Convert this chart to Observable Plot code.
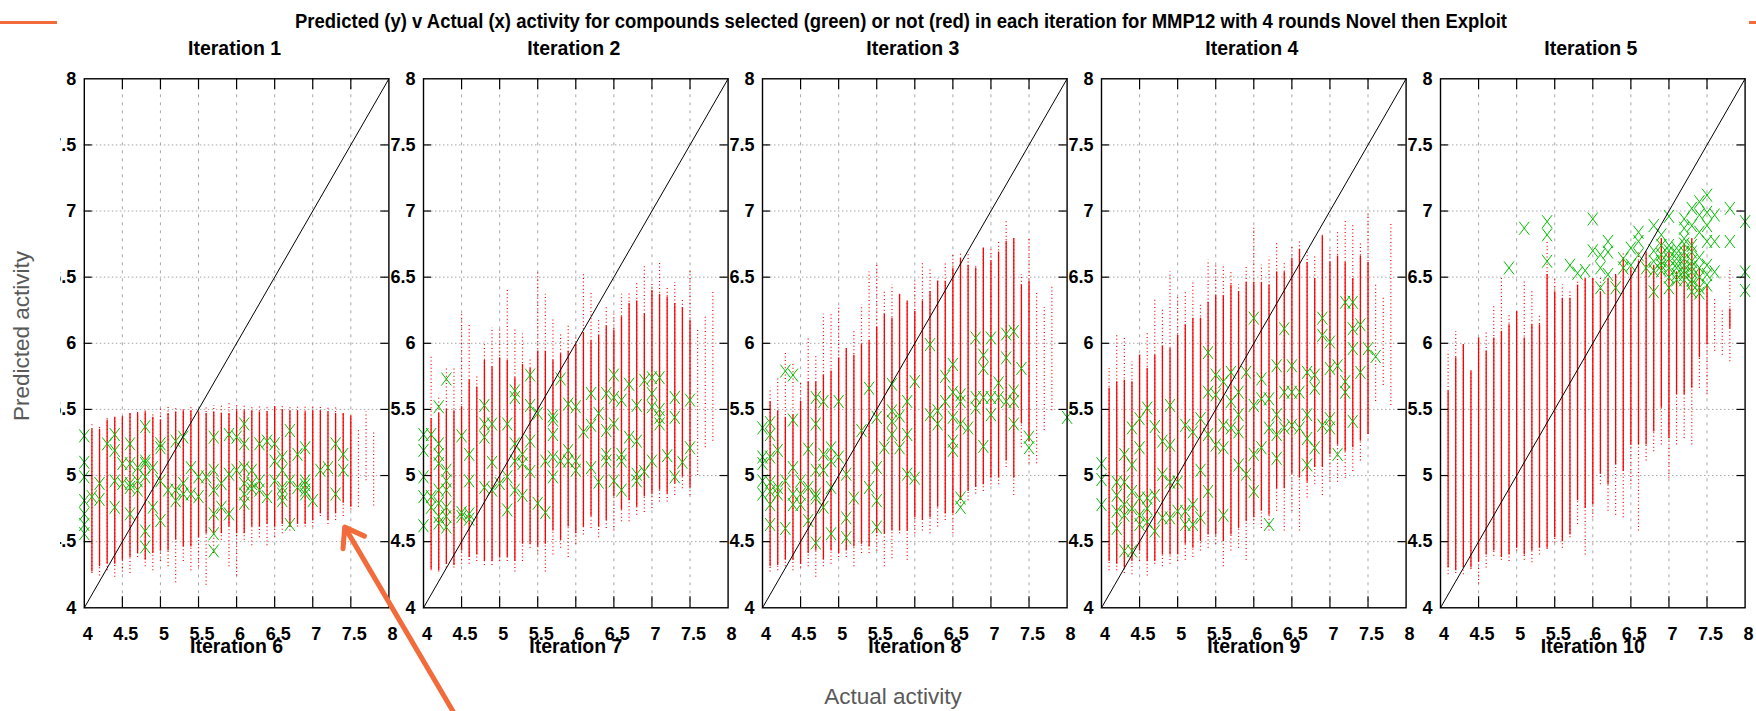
<!DOCTYPE html>
<html><head><meta charset="utf-8">
<script src="https://cdn.jsdelivr.net/npm/d3@7"></script>
<script src="https://cdn.jsdelivr.net/npm/@observablehq/plot@0.6"></script>
<style>
html,body{margin:0;padding:0;background:#fff;}
#page{position:relative;width:1756px;height:711px;overflow:hidden;background:#fff;}
.slide-text{position:absolute;font-family:"Liberation Sans",Arial,sans-serif;color:#595959;font-size:22.5px;white-space:nowrap;line-height:1;}
.gp-title{position:absolute;font-family:"Liberation Sans",Arial,sans-serif;font-weight:bold;font-size:20px;line-height:20px;white-space:nowrap;color:#000;transform-origin:0 0;}
.orange{position:absolute;background:#F26B3A;}
</style></head><body><div id="page"></div>
<script>
// ---------- text ----------
const mainTitle = "Predicted (y) v Actual (x) activity for compounds selected (green) or not (red) in each iteration for MMP12 with 4 rounds Novel then Exploit";
const panelTitles = ["Iteration 1", "Iteration 2", "Iteration 3", "Iteration 4", "Iteration 5"];
const nextRowTitles = ["Iteration 6", "Iteration 7", "Iteration 8", "Iteration 9", "Iteration 10"];
const yAxisLabel = "Predicted activity";
const xAxisLabel = "Actual activity";

// ---------- ticks ----------
const axisTicks = [4, 4.5, 5, 5.5, 6, 6.5, 7, 7.5, 8];
const gridTicks = [4.5, 5, 5.5, 6, 6.5, 7, 7.5];
const diagonal = [4, 8];

// actual-activity columns of the unselected (red) compounds
const columnX = [4.1, 4.2, 4.3, 4.4, 4.5, 4.6, 4.7, 4.8, 4.9, 5.0,
  5.1, 5.2, 5.3, 5.4, 5.5, 5.6, 5.7, 5.8, 5.9, 6.0,
  6.1, 6.2, 6.3, 6.4, 6.5, 6.6, 6.7, 6.8, 6.9, 7.0,
  7.1, 7.2, 7.3, 7.4, 7.5, 7.6, 7.7, 7.8];

// ---------- Iteration 1 ----------
const it1DenseLo = [4.27,4.31,4.33,4.33,4.36,4.38,4.41,4.36,4.41,4.43, 4.43,4.51,4.46,4.46,4.53,4.56,4.56,4.56,4.61,4.56, 4.56,4.61,4.61,4.63,4.61,4.63,4.61,4.63,4.63,4.66, 4.71,4.66,4.71,4.79,4.76,null,null,null];
const it1DenseHi = [5.35,5.35,5.42,5.44,5.44,5.47,5.47,5.48,5.44,5.42, 5.47,5.48,5.49,5.49,5.48,5.47,5.48,5.47,5.47,5.49, 5.49,5.49,5.48,5.48,5.52,5.50,5.49,5.49,5.48,5.49, 5.49,5.48,5.47,5.47,5.45,null,null,null];
const it1SparseLo = [4.26,4.24,4.28,4.23,4.27,4.26,4.38,4.31,4.28,4.35, 4.31,4.19,4.35,4.28,4.31,4.17,4.41,4.51,4.31,4.24, 4.51,4.47,4.53,4.47,4.53,4.56,4.58,4.61,4.61,4.61, 4.69,4.63,4.66,4.69,4.74,4.76,4.96,4.77];
const it1SparseHi = [5.39,5.37,5.43,5.45,5.47,5.48,5.48,5.49,5.48,5.52, 5.52,5.52,5.50,5.52,5.49,5.53,5.53,5.53,5.55,5.53, 5.53,5.53,5.53,5.53,5.54,5.53,5.53,5.53,5.53,5.53, 5.53,5.52,5.52,5.47,5.45,5.35,5.48,5.33];
const it1Selected = [[4.0,5.30],[4.0,5.10],[4.0,4.99],[4.0,4.81],[4.0,4.71],[4.0,4.63],[4.0,4.56],
  [4.1,4.84],[4.2,4.94],[4.2,4.82],[4.3,5.24],[4.4,5.31],[4.4,5.19],[4.4,4.96],[4.4,4.76],
  [4.5,5.09],[4.5,4.94],[4.6,5.24],[4.6,5.09],[4.6,4.94],[4.6,4.91],[4.6,4.71],
  [4.7,5.06],[4.7,4.96],[4.7,4.89],[4.8,5.37],[4.8,5.11],[4.8,5.09],[4.8,4.99],[4.8,4.58],[4.8,4.46],
  [4.9,5.06],[4.9,4.76],[5.0,5.24],[5.0,5.21],[5.0,4.96],[5.0,4.66],[5.1,4.89],
  [5.2,5.26],[5.2,4.89],[5.2,4.81],[5.3,5.29],[5.3,4.94],[5.3,4.86],[5.4,5.06],[5.4,4.86],
  [5.5,4.99],[5.5,4.84],[5.6,4.99],[5.7,5.29],[5.7,5.04],[5.7,4.89],[5.7,4.71],[5.7,4.56],[5.7,4.43],
  [5.8,4.94],[5.8,4.76],[5.9,5.31],[5.9,5.01],[5.9,4.71],[6.0,5.29],[6.0,5.04],
  [6.1,5.39],[6.1,5.24],[6.1,5.06],[6.1,4.94],[6.1,4.86],[6.1,4.79],[6.2,5.04],[6.2,4.94],[6.2,4.90],
  [6.3,5.24],[6.3,4.96],[6.3,4.89],[6.4,5.26],[6.4,4.84],[6.5,5.24],[6.5,5.11],[6.5,4.96],
  [6.6,5.14],[6.6,5.04],[6.6,4.91],[6.6,4.86],[6.6,4.81],[6.7,5.34],[6.7,4.96],[6.7,4.63],
  [6.8,5.16],[6.8,4.91],[6.9,5.21],[6.9,4.96],[6.9,4.93],[6.9,4.89],[6.9,4.86],
  [7.0,4.81],[7.1,5.04],[7.2,5.06],[7.3,5.24],[7.3,4.86],[7.4,5.16],[7.4,5.04]];

// ---------- Iteration 2 ----------
const it2DenseLo = [4.29,4.28,4.33,4.32,4.43,4.38,4.40,4.35,4.35,4.38, 4.38,4.35,4.48,4.48,4.46,4.48,4.58,4.51,4.61,4.56, 4.61,4.69,4.61,4.66,4.84,4.74,4.81,4.76,4.84,4.86, 4.89,4.86,4.94,4.99,4.91,null,null,null];
const it2DenseHi = [5.43,5.47,5.50,5.49,5.52,5.72,5.67,5.87,5.82,5.89, 5.87,5.74,5.84,5.81,5.94,5.94,5.87,5.92,5.94,5.99, 6.08,6.02,6.06,6.13,6.10,6.20,6.30,6.32,6.22,6.40, 6.37,6.35,6.30,6.27,6.17,null,null,null];
const it2SparseLo = [4.28,4.27,4.30,4.30,4.33,4.33,4.35,4.32,4.32,4.35, 4.35,4.27,4.35,4.45,4.40,4.27,4.40,4.45,4.38,4.48, 4.55,4.60,4.53,4.60,4.58,4.65,4.65,4.70,4.72,4.75, 4.80,4.80,4.85,4.90,4.85,5.00,5.21,5.26];
const it2SparseHi = [5.91,5.59,5.81,5.82,6.23,6.15,5.76,6.01,6.12,6.11, 6.40,6.12,6.07,5.89,6.55,6.37,6.18,6.07,6.13,6.05, 6.52,6.39,6.17,6.27,6.22,6.37,6.39,6.45,6.59,6.46, 6.62,6.42,6.46,6.34,6.55,6.11,6.20,6.40];
const it2Selected = [[4.0,5.31],[4.0,5.19],[4.0,4.99],[4.0,4.84],[4.0,4.62],
  [4.1,5.31],[4.1,4.84],[4.1,4.76],[4.2,5.52],[4.2,5.24],[4.2,5.16],[4.2,5.09],[4.2,4.89],[4.2,4.79],[4.2,4.69],[4.2,4.64],
  [4.3,5.73],[4.3,5.04],[4.3,4.96],[4.3,4.89],[4.3,4.76],[4.3,4.69],[4.3,4.61],
  [4.5,5.30],[4.5,4.72],[4.5,4.69],[4.6,5.16],[4.6,4.96],[4.6,4.71],[4.6,4.67],
  [4.8,5.53],[4.8,5.39],[4.8,5.29],[4.8,4.91],[4.9,5.39],[4.9,5.10],[4.9,4.89],[5.0,4.94],
  [5.1,5.39],[5.1,4.99],[5.1,4.74],[5.2,5.64],[5.2,5.59],[5.2,5.24],[5.2,5.11],[5.2,4.89],
  [5.3,5.16],[5.3,5.09],[5.3,4.85],[5.4,5.76],[5.4,5.53],[5.4,5.26],[5.4,5.03],
  [5.5,5.47],[5.5,4.79],[5.6,5.11],[5.6,4.72],[5.7,5.45],[5.7,5.42],[5.7,5.31],[5.7,5.14],[5.7,4.99],
  [5.8,5.73],[5.8,5.11],[5.9,5.54],[5.9,5.19],[5.9,5.11],[6.0,5.52],[6.0,5.11],[6.0,5.04],
  [6.1,5.33],[6.2,5.62],[6.2,5.38],[6.2,5.06],[6.3,5.47],[6.3,4.95],
  [6.4,5.62],[6.4,5.34],[6.4,5.16],[6.4,5.11],[6.5,5.76],[6.5,5.59],[6.5,5.39],[6.5,4.96],
  [6.6,5.57],[6.6,5.16],[6.6,5.11],[6.6,4.89],[6.7,5.69],[6.7,5.29],
  [6.8,5.53],[6.8,5.26],[6.8,5.01],[6.8,4.96],[6.9,5.72],[6.9,5.03],
  [7.0,5.74],[7.0,5.62],[7.0,5.52],[7.0,5.11],[7.1,5.74],[7.1,5.50],[7.1,5.44],[7.1,5.39],
  [7.2,5.15],[7.3,5.59],[7.3,5.44],[7.3,4.99],[7.4,5.10],[7.5,5.57],[7.5,5.21]];

// ---------- Iteration 3 ----------
const it3DenseLo = [4.31,4.32,4.36,4.36,4.33,4.41,4.43,4.36,4.43,4.41, 4.43,4.46,4.48,4.46,4.56,4.56,4.58,4.58,4.58,4.68, 4.66,4.68,4.76,4.71,4.71,4.81,4.88,4.91,4.93,4.98, 4.98,5.11,4.98,5.39,5.26,null,null,null];
const it3DenseHi = [5.56,5.49,5.44,5.46,5.56,5.71,5.71,5.76,5.79,5.89, 5.96,5.91,5.99,6.02,6.12,6.22,6.19,6.37,6.32,6.24, 6.32,6.39,6.47,6.47,6.57,6.64,6.59,6.57,6.72,6.62, 6.69,6.77,6.79,6.44,6.47,null,null,null];
const it3SparseLo = [4.27,4.28,4.31,4.28,4.30,4.31,4.23,4.31,4.33,4.38, 4.38,4.31,4.41,4.41,4.43,4.31,4.37,4.56,4.36,4.56, 4.58,4.56,4.61,4.66,4.56,4.76,4.81,4.86,4.88,4.93, 4.93,5.06,4.85,5.21,5.09,5.09,5.34,5.49];
const it3SparseHi = [5.66,5.74,5.94,5.86,5.71,6.04,5.91,6.22,6.23,6.27, 5.96,6.09,6.29,6.54,6.59,6.39,6.44,6.37,6.32,6.47, 6.62,6.57,6.49,6.61,6.67,6.69,6.67,6.58,6.73,6.72, 6.77,6.92,6.79,6.52,6.79,6.39,6.27,6.44];
const it3Selected = [[4.0,5.36],[4.0,5.14],[4.0,5.09],[4.0,4.96],[4.0,4.86],
  [4.1,5.40],[4.1,5.31],[4.1,5.14],[4.1,4.95],[4.1,4.88],[4.1,4.78],[4.1,4.63],
  [4.2,5.19],[4.2,4.91],[4.2,4.86],[4.3,5.79],[4.3,4.96],[4.3,4.60],
  [4.4,5.76],[4.4,5.42],[4.4,5.06],[4.4,4.86],[4.4,4.78],[4.5,4.96],[4.5,4.86],[4.5,4.78],
  [4.6,5.20],[4.6,4.91],[4.6,4.66],[4.7,5.59],[4.7,5.39],[4.7,5.04],[4.7,4.86],[4.7,4.83],[4.7,4.49],
  [4.8,5.56],[4.8,5.16],[4.8,5.04],[4.8,4.76],[4.9,5.21],[4.9,5.11],[4.9,4.91],[4.9,4.56],
  [5.0,5.56],[5.0,5.14],[5.1,5.01],[5.1,4.68],[5.1,4.53],[5.2,4.83],[5.3,5.34],[5.4,5.66],[5.4,4.91],
  [5.5,5.44],[5.5,5.06],[5.5,4.81],[5.5,4.61],[5.6,5.21],[5.7,5.69],[5.7,5.49],[5.7,5.41],[5.7,5.31],
  [5.8,5.45],[5.8,5.21],[5.9,5.56],[5.9,5.31],[5.9,5.01],[6.0,5.71],[6.0,4.98],
  [6.2,5.99],[6.2,5.46],[6.3,5.49],[6.3,5.39],[6.4,5.75],[6.4,5.56],
  [6.5,5.84],[6.5,5.63],[6.5,5.44],[6.5,5.26],[6.5,5.19],[6.6,5.61],[6.6,5.56],[6.6,5.39],[6.6,4.83],[6.6,4.76],
  [6.7,5.36],[6.8,6.04],[6.8,5.59],[6.8,5.51],[6.9,5.91],[6.9,5.81],[6.9,5.59],[6.9,5.22],
  [7.0,6.04],[7.0,5.59],[7.0,5.46],[7.1,5.70],[7.1,5.59],[7.2,6.07],[7.2,5.89],[7.2,5.56],
  [7.3,6.09],[7.3,5.64],[7.3,5.56],[7.3,5.39],[7.4,5.81],[7.5,5.29],[7.5,5.21],[8.0,5.44]];

// ---------- Iteration 4 ----------
const it4DenseLo = [4.35,4.33,4.30,4.35,4.43,4.35,4.35,4.40,4.40,4.40, 4.48,4.45,4.50,4.55,4.55,4.50,4.55,4.60,4.65,4.68, 4.73,4.70,4.90,4.90,5.01,4.98,4.95,5.06,5.06,5.16, 5.23,5.18,5.21,5.26,5.31,null,null,null];
const it4DenseHi = [5.66,5.71,5.72,5.71,5.91,5.81,5.91,5.98,5.96,6.06, 6.14,6.19,6.19,6.31,6.36,6.36,6.44,6.39,6.46,6.46, 6.46,6.44,6.54,6.54,6.64,6.71,6.61,6.49,6.81,6.61, 6.66,6.61,6.49,6.66,6.61,null,null,null];
const it4SparseLo = [4.28,4.28,4.26,4.25,4.35,4.24,4.33,4.31,4.33,4.35, 4.36,4.38,4.43,4.45,4.48,4.31,4.43,4.45,4.36,4.63, 4.60,4.58,4.73,4.58,4.73,4.58,4.83,4.93,4.85,4.95, 4.95,4.98,5.03,5.11,5.31,5.56,5.68,5.53];
const it4SparseHi = [5.81,6.06,6.04,5.86,5.91,6.09,6.34,6.26,6.54,6.36, 6.39,6.46,6.29,6.63,6.60,6.59,6.54,6.44,6.59,6.88, 6.59,6.65,6.76,6.61,6.74,6.78,6.71,6.66,6.83,6.71, 6.85,6.93,6.90,6.76,7.00,6.44,6.34,6.90];
const it4Selected = [[4.0,5.09],[4.0,4.97],[4.0,4.78],[4.2,4.95],[4.2,4.85],[4.2,4.73],[4.2,4.60],
  [4.3,5.16],[4.3,4.95],[4.3,4.78],[4.3,4.70],[4.3,4.43],[4.4,5.36],[4.4,5.08],[4.4,4.88],[4.4,4.75],[4.4,4.43],
  [4.5,5.43],[4.5,5.21],[4.5,4.83],[4.5,4.70],[4.5,4.63],[4.6,5.51],[4.6,4.83],[4.6,4.75],[4.6,4.65],
  [4.7,5.37],[4.7,4.85],[4.7,4.58],[4.8,5.26],[4.8,5.01],[4.8,4.68],[4.9,5.53],[4.9,5.23],[4.9,4.95],[4.9,4.68],
  [5.0,4.95],[5.0,4.73],[5.1,5.38],[5.1,4.73],[5.1,4.63],[5.2,5.33],[5.2,4.78],[5.2,4.63],
  [5.3,5.43],[5.3,5.04],[5.3,4.68],[5.4,5.93],[5.4,5.63],[5.4,5.31],[5.4,4.88],
  [5.5,5.76],[5.5,5.61],[5.5,5.23],[5.6,5.71],[5.6,5.38],[5.6,5.21],[5.6,4.70],
  [5.7,5.78],[5.7,5.56],[5.7,5.36],[5.8,5.63],[5.8,5.46],[5.8,5.33],[5.8,5.08],[5.9,5.78],[5.9,5.01],
  [6.0,6.19],[6.0,5.53],[6.0,5.16],[6.0,4.88],[6.1,5.73],[6.1,5.58],[6.1,5.21],[6.2,5.58],[6.2,5.36],[6.2,4.63],
  [6.3,5.83],[6.3,5.46],[6.3,5.31],[6.3,5.13],[6.4,6.11],[6.4,5.63],[6.4,5.36],[6.5,5.83],[6.5,5.63],[6.5,5.38],
  [6.6,5.63],[6.6,5.36],[6.7,5.78],[6.7,5.46],[6.7,5.28],[6.7,5.08],[6.8,5.76],[6.8,5.66],[6.8,5.21],
  [6.9,6.19],[6.9,6.06],[6.9,5.38],[7.0,6.01],[7.0,5.81],[7.0,5.43],[7.0,5.36],[7.1,5.83],[7.1,5.16],
  [7.2,6.31],[7.2,5.71],[7.2,5.63],[7.3,6.31],[7.3,6.11],[7.3,5.96],[7.3,5.41],[7.4,6.14],[7.4,5.78],
  [7.5,5.96],[7.6,5.90]];

// ---------- Iteration 5 ----------
const it5DenseLo = [4.30,4.28,4.30,4.30,4.35,4.40,4.43,4.38,4.40,4.45, 4.40,4.43,4.45,4.45,4.53,4.50,4.55,4.81,4.75,4.78, 5.01,4.93,5.08,5.03,5.23,5.23,5.23,5.33,5.51,5.28, 5.61,5.61,5.66,5.89,5.99,null,null,6.11];
const it5DenseHi = [5.64,5.89,5.99,5.79,6.04,5.94,6.04,6.09,6.14,6.24, 6.04,6.14,6.14,6.52,6.39,6.34,6.34,6.44,6.49,6.49, 6.39,6.49,6.52,6.64,6.57,6.62,6.69,6.59,6.79,6.69, 6.54,6.74,6.79,6.57,6.44,null,null,6.26];
const it5SparseLo = [4.25,4.26,4.25,4.29,4.18,4.30,4.39,4.36,4.35,4.43, 4.36,4.34,4.40,4.44,4.49,4.45,4.53,4.63,4.40,4.68, 4.93,4.73,4.70,4.68,4.93,4.58,5.11,5.18,5.23,4.98, 5.23,5.28,5.23,5.66,5.61,5.94,5.91,5.86];
const it5SparseHi = [5.94,6.09,5.99,5.79,6.04,6.09,6.29,6.49,6.21,6.24, 6.47,6.39,6.21,6.77,6.49,6.44,6.39,6.47,6.49,6.49, 6.49,6.49,6.52,6.69,6.57,6.69,6.69,6.59,6.79,6.69, 6.54,6.74,6.79,6.57,6.44,6.34,6.26,6.57];
const it5Selected = [[4.9,6.57],[5.1,6.87],[5.4,6.92],[5.4,6.82],[5.4,6.62],[5.7,6.59],[5.8,6.53],[5.9,6.55],
  [6.0,6.94],[6.0,6.70],[6.1,6.67],[6.1,6.57],[6.1,6.42],[6.2,6.77],[6.2,6.69],[6.2,6.52],[6.3,6.42],
  [6.4,6.64],[6.4,6.57],[6.5,6.72],[6.5,6.59],[6.6,6.84],[6.6,6.77],[6.6,6.67],[6.7,6.57],
  [6.8,6.89],[6.8,6.70],[6.8,6.62],[6.8,6.55],[6.8,6.39],[6.9,6.82],[6.9,6.74],[6.9,6.67],[6.9,6.62],[6.9,6.59],[6.9,6.55],
  [7.0,6.96],[7.0,6.74],[7.0,6.70],[7.0,6.64],[7.0,6.57],[7.0,6.50],[7.0,6.42],
  [7.1,6.72],[7.1,6.68],[7.1,6.64],[7.1,6.60],[7.1,6.57],[7.1,6.52],[7.1,6.48],
  [7.2,6.94],[7.2,6.87],[7.2,6.79],[7.2,6.75],[7.2,6.69],[7.2,6.64],[7.2,6.59],[7.2,6.55],[7.2,6.52],[7.2,6.48],
  [7.3,7.02],[7.3,6.89],[7.3,6.74],[7.3,6.69],[7.3,6.62],[7.3,6.58],[7.3,6.54],[7.3,6.48],[7.3,6.45],[7.3,6.39],
  [7.4,7.07],[7.4,6.97],[7.4,6.84],[7.4,6.65],[7.4,6.57],[7.4,6.50],[7.4,6.42],[7.4,6.38],
  [7.5,7.12],[7.5,6.99],[7.5,6.89],[7.5,6.77],[7.5,6.59],[7.5,6.52],[7.5,6.44],
  [7.6,6.97],[7.6,6.77],[7.6,6.54],[7.8,7.02],[7.8,6.77],[8.0,6.92],[8.0,6.54],[8.0,6.40]];

// slide annotation arrow (in Iteration 1 data units): tail -> head
const arrowAnnotation = [{x1: 8.88, y1: 3.18, x2: 7.42, y2: 4.61}];

// ---------- assemble ----------
const iterations = [
  {title: panelTitles[0], next: nextRowTitles[0], lo: it1DenseLo, hi: it1DenseHi, slo: it1SparseLo, shi: it1SparseHi, sel: it1Selected},
  {title: panelTitles[1], next: nextRowTitles[1], lo: it2DenseLo, hi: it2DenseHi, slo: it2SparseLo, shi: it2SparseHi, sel: it2Selected},
  {title: panelTitles[2], next: nextRowTitles[2], lo: it3DenseLo, hi: it3DenseHi, slo: it3SparseLo, shi: it3SparseHi, sel: it3Selected},
  {title: panelTitles[3], next: nextRowTitles[3], lo: it4DenseLo, hi: it4DenseHi, slo: it4SparseLo, shi: it4SparseHi, sel: it4Selected},
  {title: panelTitles[4], next: nextRowTitles[4], lo: it5DenseLo, hi: it5DenseHi, slo: it5SparseLo, shi: it5SparseHi, sel: it5Selected}
];

const page = document.getElementById("page");
const RED = "#ff0000", GREEN = "#00c000", GRID = "#a8a8a8", ORANGE = "#F26B3A";
const PANEL_LEFT0 = 83.3, PANEL_STEP = 339.25, PANEL_W = 304.6;
const TOP = 78.3, BOTTOM = 607.3, PAGE_H = 711, FRAME_H = BOTTOM - TOP;
const gpFont = {fontFamily: "Liberation Sans, Arial, sans-serif", fontWeight: "bold", fill: "black"};

// gnuplot "x" point: a slightly tall cross
const tallCross = {
  draw(context, size) {
    const r = Math.sqrt(size / Math.PI), h = r * 1.3;
    context.moveTo(-r, -h); context.lineTo(r, h);
    context.moveTo(-r, h); context.lineTo(r, -h);
  }
};

iterations.forEach((it, i) => {
  const left = PANEL_LEFT0 + i * PANEL_STEP;
  const mL = i === 0 ? left - 59.5 : 42;
  const mR = i === 0 ? 90 : 14;
  const width = mL + PANEL_W + mR;
  const cols = columnX.map((x, j) => ({x, lo: it.lo[j], hi: it.hi[j], slo: it.slo[j], shi: it.shi[j]}));
  const marks = [
    Plot.ruleX(gridTicks, {stroke: GRID, strokeWidth: 1, strokeDasharray: "3,5"}),
    Plot.ruleY(gridTicks, {stroke: GRID, strokeWidth: 1, strokeDasharray: "1.5,2.5"}),
    Plot.ruleX(cols.filter(d => d.slo != null), {x: "x", y1: "slo", y2: "shi", stroke: RED, strokeWidth: 1.2, strokeDasharray: "1,2.6"}),
    Plot.ruleX(cols.filter(d => d.lo != null), {x: "x", y1: "lo", y2: "hi", stroke: RED, strokeWidth: 1.3}),
    Plot.dot(it.sel, {x: d => d[0], y: d => d[1], r: 5, symbol: tallCross, stroke: GREEN, strokeWidth: 1, fill: "none"}),
    Plot.line(diagonal.map(v => [v, v]), {stroke: "black", strokeWidth: 1}),
    Plot.ruleX(gridTicks, {stroke: "black", strokeWidth: 1.2, insetBottom: FRAME_H - 11}),
    Plot.ruleX(gridTicks, {stroke: "black", strokeWidth: 1.2, insetTop: FRAME_H - 11}),
    Plot.ruleY(gridTicks, {stroke: "black", strokeWidth: 1.2, insetRight: PANEL_W - 8}),
    Plot.ruleY(gridTicks, {stroke: "black", strokeWidth: 1.2, insetLeft: PANEL_W - 8}),
    Plot.frame({stroke: "black", strokeWidth: 1.4}),
    Plot.axisX(axisTicks, {anchor: "bottom", tickSize: 0, tickPadding: 19, dx: 3.5, label: null, tickFormat: d => String(d), fontSize: 18, ...gpFont}),
    Plot.axisY(axisTicks, {anchor: "left", tickSize: 0, tickPadding: 8, label: null, tickFormat: d => String(d), fontSize: 18, ...gpFont}),
    Plot.text([it.title], {frameAnchor: "top", lineAnchor: "middle", dy: -30.5, dx: -2, text: d => d, fontSize: 19.5, ...gpFont}),
    Plot.text([it.next], {frameAnchor: "bottom", lineAnchor: "middle", dy: 38.5, text: d => d, fontSize: 19.5, ...gpFont})
  ];
  if (i === 0) {
    marks.push(Plot.arrow(arrowAnnotation, {x1: "x1", y1: "y1", x2: "x2", y2: "y2", stroke: ORANGE, strokeWidth: 5, headLength: 6.5, headAngle: 70}));
  }
  const svg = Plot.plot({
    width, height: PAGE_H,
    marginLeft: mL, marginRight: mR, marginTop: TOP, marginBottom: PAGE_H - BOTTOM,
    x: {domain: [4, 8], label: null},
    y: {domain: [4, 8], label: null},
    marks
  });
  svg.style.position = "absolute";
  svg.style.left = (left - mL) + "px";
  svg.style.top = "0px";
  svg.style.maxWidth = "none";
  svg.style.overflow = "hidden";
  svg.style.background = "transparent";
  svg.style.zIndex = i === 0 ? "5" : "1";
  page.appendChild(svg);
});

// main gnuplot title (fitted to the span it occupies in the original)
const t = document.createElement("div");
t.className = "gp-title";
t.textContent = mainTitle;
page.appendChild(t);
const tw = t.getBoundingClientRect().width;
t.style.left = "295px";
t.style.top = "11px";
t.style.transform = `scaleX(${1212 / tw})`;

// slide texts
const yl = document.createElement("div");
yl.className = "slide-text";
yl.textContent = yAxisLabel;
yl.style.left = "22px"; yl.style.top = "336px";
yl.style.transform = "translate(-50%,-50%) rotate(-90deg)";
page.appendChild(yl);

const xl = document.createElement("div");
xl.className = "slide-text";
xl.textContent = xAxisLabel;
xl.style.left = "893px"; xl.style.top = "697px";
xl.style.transform = "translate(-50%,-50%)";
page.appendChild(xl);

// slide decoration strokes
const o1 = document.createElement("div"); o1.className = "orange";
Object.assign(o1.style, {left: "0px", top: "21px", width: "57px", height: "3px"});
page.appendChild(o1);
const o2 = document.createElement("div"); o2.className = "orange";
Object.assign(o2.style, {left: "1749px", top: "21px", width: "7px", height: "3px"});
page.appendChild(o2);
</script></body></html>
